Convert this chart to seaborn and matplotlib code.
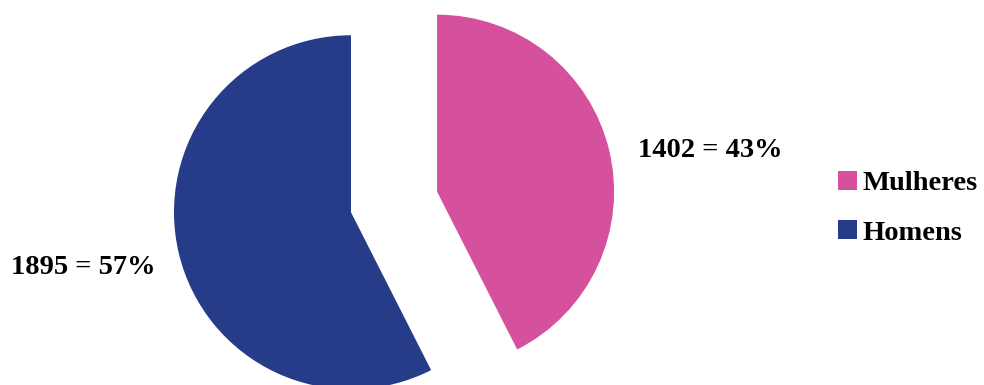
import matplotlib
matplotlib.use("Agg")
import matplotlib.pyplot as plt
import seaborn as sns

# Data
categories = ["Mulheres", "Homens"]
counts = [1402, 1895]
percents = [43, 57]
colors = ["#D6519D", "#273C88"]

sns.set_theme(style="white")
plt.rcParams["font.family"] = ["Liberation Serif", "DejaVu Serif"]
plt.rcParams["font.weight"] = "bold"

fig = plt.figure(figsize=(9.84, 3.85), dpi=100)
ax = fig.add_axes([0, 0, 1, 1])

wedges, _ = ax.pie(
    counts,
    colors=colors,
    startangle=90,
    counterclock=False,
    explode=[0.25, 0.25],
    radius=1.0,
    wedgeprops=dict(linewidth=0),
)
ax.set_aspect("equal")
ax.set_xlim(-2.226, 3.333)
ax.set_ylim(-1.034, 1.141)
ax.axis("off")

# Value labels
label_pos = [(1.785, 0.29), (-1.755, -0.37)]
for (x, y), n, p in zip(label_pos, counts, percents):
    ax.text(x, y, f"{n} = {p}%", ha="center", va="center",
            fontsize=20.5, fontweight="bold", color="black")

leg = ax.legend(
    wedges, categories,
    loc="center left",
    bbox_to_anchor=(0.852, 0.459),
    bbox_transform=fig.transFigure,
    frameon=False,
    prop=dict(weight="bold", size=20.5),
    labelcolor="black",
    handlelength=0.65,
    handleheight=0.65,
    handletextpad=0.2,
    labelspacing=0.85,
    borderpad=0,
    borderaxespad=0,
)

fig.savefig("out.png", dpi=100, facecolor="white")
